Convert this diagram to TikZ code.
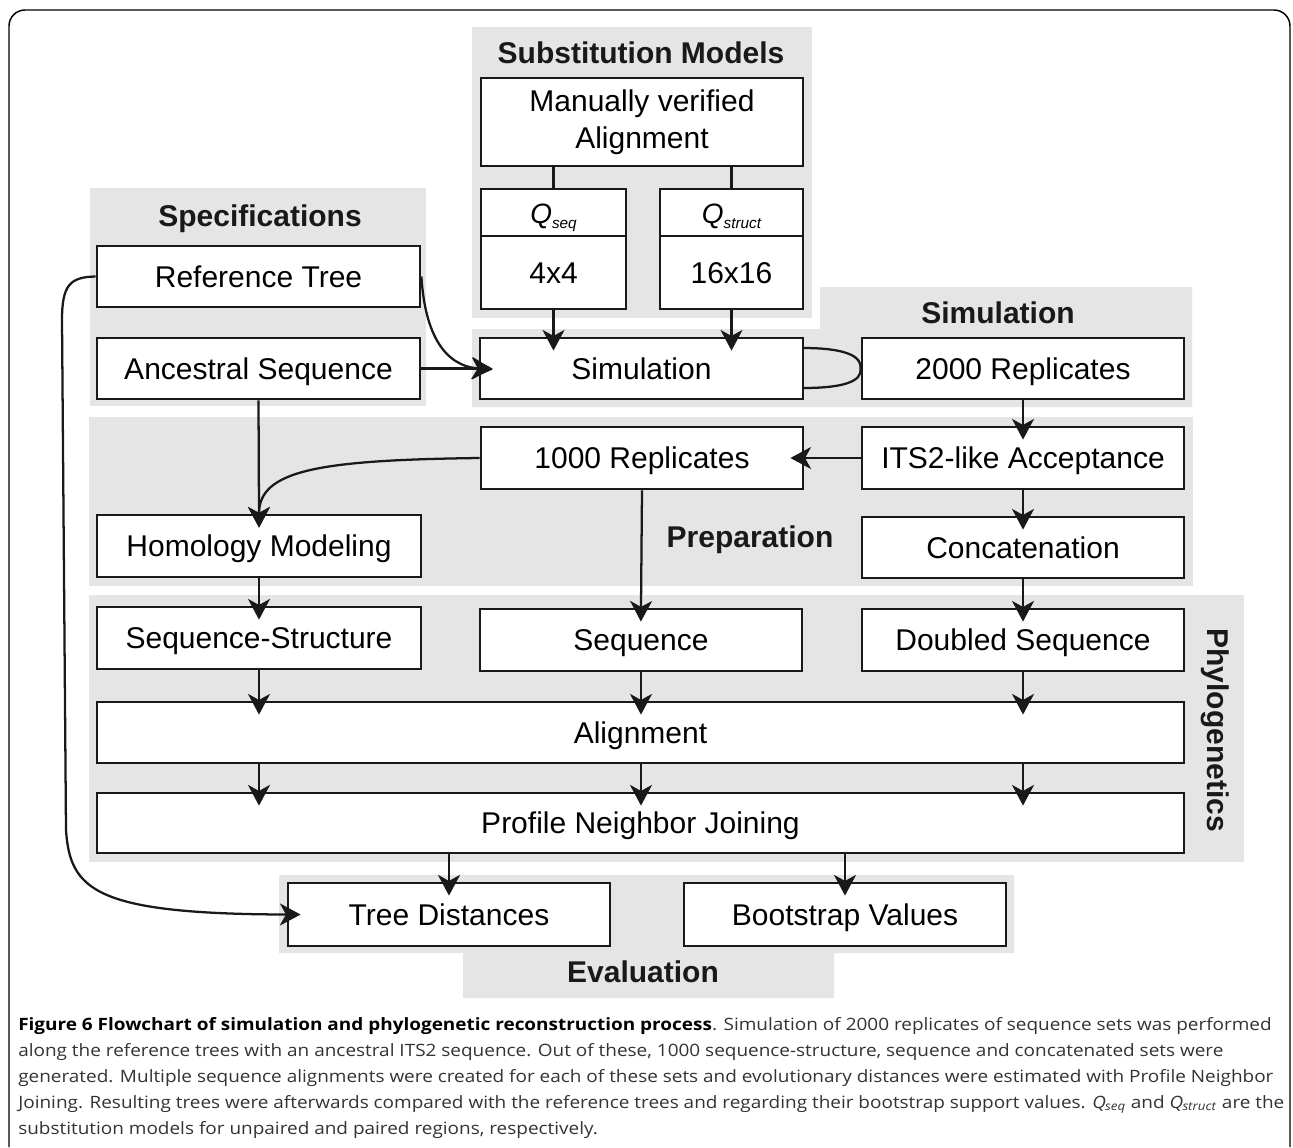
\documentclass[tikz,border=0pt]{standalone}
\usepackage{fontspec}
\usepackage{graphicx}
\setmainfont{Liberation Sans}
\newfontfamily\capfont{Open Sans}
\usetikzlibrary{arrows.meta,calc}
\newcommand\bx[6]{\node[box, minimum width={(#4-#2)*0.75pt}, minimum height={(#5-#3)*0.75pt}] (#1) at ({(#2+#4)/2},{(#3+#5)/2}) {#6};}
\begin{document}
\begin{tikzpicture}[x=0.75pt,y=-0.75pt,
  region/.style={fill=black!10, draw=none},
  box/.style={draw=black!90, line width=2.1pt, fill=white, inner sep=0pt,
    font=\fontsize{22.5}{27.75}\selectfont, align=center, text height=16.1pt, text depth=0pt},
  hdr/.style={font=\fontsize{22.5}{27}\selectfont\bfseries, text=black!90, inner sep=0pt},
  conn/.style={line width=1.7pt, draw=black!90},
  arr/.style={conn, -{Stealth[length=15.5pt,width=16.5pt,inset=4.5pt]}, shorten >=-10.5pt},
]
\useasboundingbox (0,0) rectangle (1293,1147);
\fill[white] (0,0) rectangle (1293,1147);
% outer frame
\draw[line width=1.1pt, rounded corners=12pt] (9,1147) -- (9,10) -- (1290,10) -- (1290,1147);

% gray regions
\fill[region] (472,27) rectangle (812,318);
\fill[region] (90,188) rectangle (426,406);
\fill[region] (472,329) -- (820,329) -- (820,287) -- (1192,287) -- (1192,407) -- (472,407) -- cycle;
\fill[region] (89,417) rectangle (1193,586);
\fill[region] (89,595) rectangle (1244,862);
\fill[region] (279,875) -- (1014,875) -- (1014,953) -- (834,953) -- (834,998) -- (463,998) -- (463,953) -- (279,953) -- cycle;

% headers
\node[hdr] (hsub) at (641,53) {Substitution Models};
\node[hdr] (hspec) at (260,219) {Specifications};
\node[hdr] (hsim) at (998,313) {Simulation};
\node[hdr] (hprep) at (750,540) {Preparation};
\node[hdr, rotate=-90] (hphy) at (1215,730) {Phylogenetics};
\node[hdr] (heval) at (643,972) {Evaluation};

% boxes
\node[box, text height=, text depth=, minimum width={322*0.75pt}, minimum height={88*0.75pt}] (mv) at (642,122) {Manually verified\\Alignment};
\bx{qsh}{481}{189}{626}{236}{\fontsize{21}{24}\selectfont\itshape Q\raisebox{-0.35ex}{\fontsize{11.5}{13}\selectfont seq}}
\bx{qs}{481}{236}{626}{309}{4x4}
\bx{qth}{660}{189}{803}{236}{\fontsize{21}{24}\selectfont\itshape Q\raisebox{-0.35ex}{\fontsize{11.5}{13}\selectfont struct}}
\bx{qt}{660}{236}{803}{309}{16x16}
\bx{rt}{97}{246}{420}{307}{Reference Tree}
\bx{as}{97}{338}{420}{399}{Ancestral Sequence}
\bx{sim}{480}{338}{803}{399}{Simulation}
\bx{rep}{862}{338}{1184}{399}{2000 Replicates}
\bx{ktr}{481}{427}{803}{489}{1000 Replicates}
\bx{its}{862}{427}{1184}{489}{ITS2-like Acceptance}
\bx{cat}{862}{517}{1184}{578}{Concatenation}
\bx{hm}{97}{515}{421}{577}{Homology Modeling}
\bx{ss}{97}{607}{421}{669}{Sequence-Structure}
\bx{sq}{480}{609}{802}{671}{Sequence}
\bx{ds}{862}{609}{1184}{671}{Doubled Sequence}
\bx{al}{97}{702}{1184}{763}{Alignment}
\bx{pnj}{97}{793}{1184}{853}{Profile Neighbor Joining}
\bx{td}{288}{883}{610}{946}{Tree Distances}
\bx{bv}{684}{883}{1006}{946}{Bootstrap Values}

% plain connectors
\draw[conn] (qsh.north |- mv.south) -- (qsh.north);
\draw[conn] (qth.north |- mv.south) -- (qth.north);
\coordinate (la) at (803,348);
\coordinate (lb) at (803,388);
\draw[conn] (la) .. controls (845,348) and (862,356) .. (rep.west) .. controls (862,381) and (845,388) .. (lb);

% arrows
\draw[arr] (qs.south) -- (qs.south |- sim.north);
\draw[arr] (qt.south) -- (qt.south |- sim.north);
\draw[arr] (as.east) -- (sim.west);
\draw[arr] (rt.east) .. controls (425,335) and (445,366) .. (sim.west);
\draw[arr] (rep.south) -- (its.north);
\draw[arr] (its.west) -- (ktr.east);
\draw[arr] (its.south) -- (cat.north);
\draw[arr] (cat.south) -- (ds.north);
\draw[arr] (as.south) -- (hm.north);
\draw[arr] (ktr.west) .. controls (320,460) and (259,470) .. (hm.north);
\draw[arr] (ktr.south) -- (sq.north);
\draw[arr] (hm.south) -- (ss.north);
\draw[arr] (ss.south) -- (ss.south |- al.north);
\draw[arr] (sq.south) -- (sq.south |- al.north);
\draw[arr] (ds.south) -- (ds.south |- al.north);
\draw[arr] (ss.south |- al.south) -- (ss.south |- pnj.north);
\draw[arr] (sq.south |- al.south) -- (sq.south |- pnj.north);
\draw[arr] (ds.south |- al.south) -- (ds.south |- pnj.north);
\draw[arr] (td.north |- pnj.south) -- (td.north);
\draw[arr] (bv.north |- pnj.south) -- (bv.north);
\draw[arr] (rt.west) .. controls (70,277) and (62,285) .. (62,320) -- (66,830) .. controls (70,890) and (95,914) .. (td.west);

% caption
\node[anchor=north west, inner sep=0pt, text=black!80] (cap) at (18,1012)
{\scalebox{1.115}[1]{\capfont\fontsize{12.75}{19.5}\selectfont\begin{tabular}{@{}l@{}}
{\bfseries\color{black}Figure 6 Flowchart of simulation and phylogenetic reconstruction process}. Simulation of 2000 replicates of sequence sets was performed\\
along the reference trees with an ancestral ITS2 sequence. Out of these, 1000 sequence-structure, sequence and concatenated sets were\\
generated. Multiple sequence alignments were created for each of these sets and evolutionary distances were estimated with Profile Neighbor\\
Joining. Resulting trees were afterwards compared with the reference trees and regarding their bootstrap support values. \textit{Q}\kern-0.5pt\textsubscript{\textit{seq}} and \textit{Q}\kern-0.5pt\textsubscript{\textit{struct}} are the\\
substitution models for unpaired and paired regions, respectively.
\end{tabular}}};
\end{tikzpicture}
\end{document}
